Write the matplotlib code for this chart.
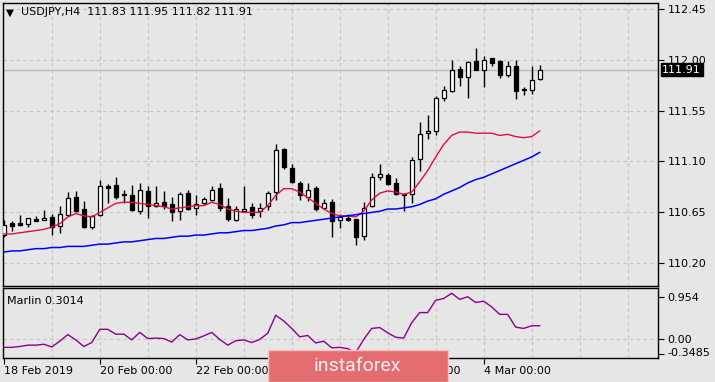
import matplotlib
matplotlib.use("Agg")
import matplotlib.pyplot as plt
import matplotlib.patches as mpatches
import matplotlib.transforms as mtransforms
import numpy as np

# ---------------- data (USDJPY H4) ----------------
opens = [110.45,110.56,110.56,110.55,110.59,110.58,110.61,110.53,110.63,110.79,
         110.68,110.52,110.63,110.88,110.89,110.81,110.80,110.66,110.84,110.71,
         110.74,110.72,110.66,110.82,110.69,110.73,110.76,110.87,110.71,110.58,
         110.66,110.70,110.66,110.71,110.83,111.21,111.04,110.91,110.79,110.87,
         110.69,110.74,110.58,110.60,110.59,110.44,110.71,110.96,110.98,110.91,
         110.81,110.81,111.12,111.35,111.37,111.66,111.72,111.92,111.85,111.99,
         111.91,112.01,111.99,111.86,111.94,111.74,111.73,111.83]
highs = [110.58,110.57,110.63,110.60,110.62,110.67,110.64,110.71,110.83,110.84,
         110.75,110.63,110.94,110.90,110.96,110.85,110.89,110.91,110.88,110.88,
         110.84,110.79,110.83,110.85,110.80,110.79,110.88,110.91,110.78,110.71,
         110.88,110.73,110.73,110.84,111.25,111.22,111.08,110.93,110.91,110.88,
         110.77,110.77,110.64,110.64,110.59,110.74,111.00,111.08,111.00,110.95,
         110.82,111.14,111.45,111.51,111.68,111.77,112.00,111.94,111.99,112.10,
         112.03,112.01,112.00,111.99,112.00,111.76,111.94,111.95]
lows = [110.43,110.49,110.53,110.52,110.57,110.58,110.45,110.47,110.62,110.65,
        110.51,110.50,110.62,110.73,110.77,110.73,110.66,110.64,110.60,110.70,
        110.68,110.57,110.58,110.67,110.63,110.72,110.75,110.66,110.57,110.57,
        110.65,110.60,110.61,110.67,110.76,111.03,110.91,110.76,110.75,110.66,
        110.68,110.43,110.51,110.57,110.36,110.41,110.70,110.94,110.89,110.80,
        110.66,110.73,111.02,111.30,111.33,111.63,111.71,111.77,111.66,111.91,
        111.76,111.94,111.84,111.85,111.65,111.69,111.70,111.82]
closes = [110.54,110.53,110.54,110.60,110.57,110.60,110.52,110.64,110.78,110.66,
          110.52,110.62,110.88,110.87,110.79,110.80,110.67,110.85,110.71,110.73,
          110.71,110.65,110.81,110.68,110.72,110.77,110.85,110.69,110.59,110.68,
          110.68,110.63,110.69,110.82,111.20,111.05,110.92,110.80,110.85,110.68,
          110.73,110.57,110.61,110.58,110.43,110.69,110.96,110.99,110.90,110.81,
          110.80,111.11,111.34,111.37,111.66,111.73,111.91,111.85,111.98,111.91,
          112.00,111.97,111.86,111.94,111.72,111.73,111.82,111.91]
ma_fast = [110.46,110.46,110.47,110.48,110.49,110.50,110.52,110.55,110.61,110.64,
           110.62,110.61,110.65,110.69,110.73,110.74,110.74,110.73,110.72,110.71,
           110.70,110.68,110.69,110.70,110.71,110.71,110.74,110.72,110.68,110.66,
           110.65,110.65,110.65,110.71,110.80,110.86,110.86,110.83,110.78,110.73,
           110.68,110.64,110.62,110.62,110.61,110.66,110.76,110.82,110.84,110.83,
           110.81,110.83,110.92,111.02,111.14,111.25,111.33,111.36,111.36,111.35,
           111.35,111.35,111.33,111.34,111.32,111.31,111.32,111.37]
ma_slow = [110.30,110.31,110.31,110.32,110.33,110.33,110.34,110.34,110.35,110.35,
           110.35,110.36,110.37,110.37,110.38,110.39,110.39,110.40,110.41,110.42,
           110.42,110.43,110.44,110.44,110.45,110.45,110.46,110.47,110.47,110.48,
           110.49,110.49,110.50,110.51,110.53,110.54,110.56,110.56,110.57,110.58,
           110.59,110.60,110.61,110.62,110.63,110.64,110.65,110.66,110.68,110.68,
           110.69,110.70,110.72,110.75,110.77,110.81,110.84,110.87,110.91,110.94,
           110.96,110.99,111.02,111.05,111.08,111.11,111.14,111.18]
marlin = [-0.19,-0.19,-0.17,-0.14,-0.14,-0.12,-0.18,-0.05,0.10,-0.02,
          -0.17,-0.08,0.22,0.22,0.11,0.11,-0.02,0.15,0.01,0.02,
          0.01,-0.07,0.10,-0.02,0.00,0.07,0.15,-0.01,-0.14,-0.04,
          -0.02,-0.08,-0.01,0.13,0.54,0.41,0.24,0.05,0.08,-0.09,
          -0.05,-0.20,-0.19,-0.22,-0.31,-0.01,0.24,0.26,0.14,0.04,
          0.02,0.37,0.60,0.60,0.88,0.92,1.04,0.90,0.96,0.83,
          0.86,0.73,0.56,0.56,0.27,0.24,0.30,0.3014]

price_ticks = [110.20, 110.65, 111.10, 111.55, 112.00, 112.45]
price_tick_labels = ["110.20", "110.65", "111.10", "111.55", "112.00", "112.45"]
marlin_ticks = [0.954, 0.0, -0.3485]
marlin_tick_labels = ["0.954", "0.00", "-0.3485"]
date_ticks = [0, 12, 24, 36, 48, 60]
# the 26 Feb label is completely covered by the watermark in the reference
date_labels = ["18 Feb 2019", "20 Feb 00:00", "22 Feb 00:00", "",
               "28 Feb 00:00", "4 Mar 00:00"]
title = "USDJPY,H4  111.83 111.95 111.82 111.91"
last_price = 111.91
indicator_title = "Marlin 0.3014"

# ---------------- figure ----------------
W, H = 715, 382
BG = "#e6e6e6"
GRID = "#c4c4c4"
fig = plt.figure(figsize=(W / 100, H / 100), dpi=100, facecolor=BG)

def rect(l, t, r, b):
    return [l / W, 1 - b / H, (r - l) / W, (b - t) / H]

ax1 = fig.add_axes(rect(3, 3, 658, 286), facecolor=BG)
ax2 = fig.add_axes(rect(3, 288, 658, 358), facecolor=BG)

x = np.arange(len(opens))
o = np.array(opens); c = np.array(closes)
h = np.array(highs); l = np.array(lows)

xmin, xmax = -0.1, 81.8
grid_x = np.arange(6, 82, 6)

for ax in (ax1, ax2):
    ax.set_xlim(xmin, xmax)
    for s in ax.spines.values():
        s.set_color("black")
        s.set_linewidth(1.0)
    for gx in grid_x:
        ax.axvline(gx, color=GRID, lw=0.8, ls=(0, (3, 3)), zorder=0)

# price panel
ax1.set_ylim(110.00, 112.50)
for p in price_ticks:
    ax1.axhline(p, color=GRID, lw=0.8, ls=(0, (3, 3)), zorder=0)
ax1.axhline(last_price, color="#bdbdbd", lw=1.0, zorder=0.5)

ax1.vlines(x, l, h, color="black", lw=1.0, zorder=2)
up = c >= o
body_bottom = np.minimum(o, c)
body_h = np.abs(c - o)
ax1.bar(x[up], body_h[up], bottom=body_bottom[up], width=0.5,
        facecolor="white", edgecolor="black", lw=0.9, zorder=3)
ax1.bar(x[~up], body_h[~up], bottom=body_bottom[~up], width=0.5,
        facecolor="black", edgecolor="black", lw=0.9, zorder=3)

ax1.plot(x, ma_fast, color="#e0103c", lw=1.0, zorder=4)
ax1.plot(x, ma_slow, color="#0000ff", lw=1.1, zorder=4)

ax1.yaxis.tick_right()
ax1.set_yticks(price_ticks)
ax1.set_yticklabels(price_tick_labels)
ax1.tick_params(axis="y", direction="out", length=4, width=0.8, pad=3,
                labelsize=8, colors="black")
ax1.set_xticks([])

ax1.annotate("111.91", xy=(1.0, last_price), xycoords=("axes fraction", "data"),
             xytext=(3, 0), textcoords="offset points", va="center", ha="left",
             fontsize=8, color="white", zorder=20, annotation_clip=False,
             bbox=dict(boxstyle="square,pad=0.15", fc="black", ec="black"))

ax1.text(0.005, 0.966, "\u25BC", transform=ax1.transAxes, fontsize=7.5,
         va="center", ha="left", color="black")
ax1.text(0.028, 0.968, title, transform=ax1.transAxes, fontsize=8,
         va="center", ha="left", color="black")

# indicator panel
ax2.set_ylim(-0.432, 1.159)
ax2.axhline(0, color=GRID, lw=0.8, ls=(0, (3, 3)), zorder=0)
ax2.plot(x, marlin, color="#8b008b", lw=1.0, zorder=3)
ax2.yaxis.tick_right()
ax2.set_yticks(marlin_ticks)
ax2.set_yticklabels(marlin_tick_labels)
ax2.tick_params(axis="y", direction="out", length=4, width=0.8, pad=3,
                labelsize=8, colors="black")
labs = ax2.get_yticklabels()
labs[-1].set_va("bottom")
labs[-1].set_transform(labs[-1].get_transform() +
                       mtransforms.ScaledTranslation(0, -3 / 72, fig.dpi_scale_trans))
ax2.set_xticks(date_ticks)
ax2.set_xticklabels(date_labels)
ax2.tick_params(axis="x", direction="out", length=4, width=0.8, pad=1.5,
                labelsize=8, colors="black")
for lbl in ax2.get_xticklabels():
    lbl.set_ha("left")
ax2.text(0.006, 0.82, indicator_title, transform=ax2.transAxes, fontsize=8,
         va="center", ha="left", color="black")

# watermark
wm = mpatches.Rectangle((268 / W, 0), 180 / W, 32 / H, transform=fig.transFigure,
                        facecolor="#e36d6f", edgecolor="#f4c4c4", lw=1.0,
                        zorder=50)
fig.patches.append(wm)
fig.text(357 / W, 1 - 366 / H, "instaforex", fontsize=14, family="Roboto",
         color="#f7eded", ha="center", va="center", zorder=51)

fig.savefig("out.png", dpi=100, facecolor=BG)
